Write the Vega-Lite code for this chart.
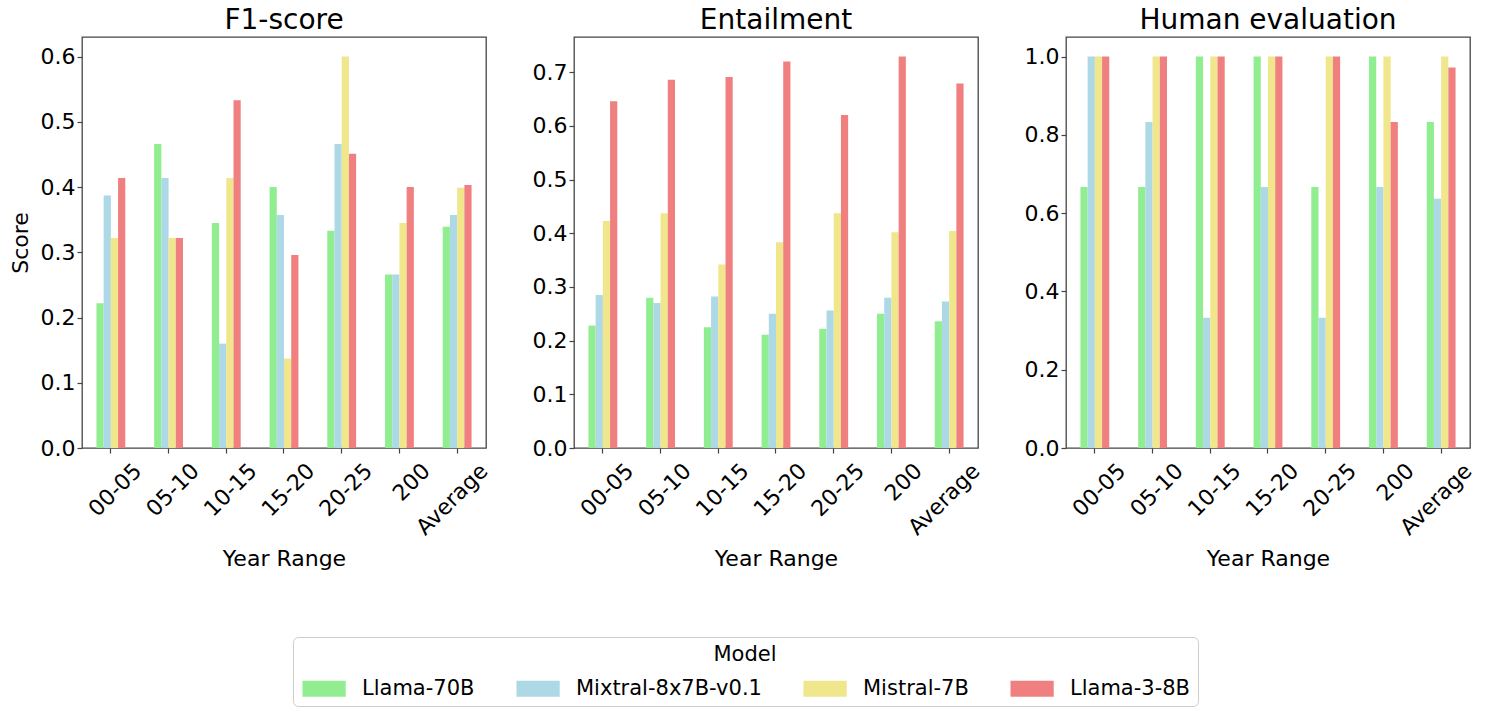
{
  "$schema": "https://vega.github.io/schema/vega-lite/v6.json",
  "padding": {"left": 8, "top": 6, "right": 5, "bottom": 5},
  "background": "white",
  "config": {
    "font": "DejaVu Sans",
    "view": {"stroke": "#444444", "strokeWidth": 1.3},
    "axis": {"grid": false, "domain": false, "tickColor": "#444444", "tickSize": 5, "tickWidth": 1.2, "labelFontSize": 22, "titleFontSize": 22, "labelColor": "black", "titleColor": "black", "titleFontWeight": "normal", "labelFont": "DejaVu Sans", "titleFont": "DejaVu Sans"},
    "title": {"fontSize": 28, "fontWeight": "normal", "font": "DejaVu Sans", "offset": 2, "color": "black"},
    "concat": {"spacing": 38}
  },
  "data": {"values": [
    {"metric": "F1-score", "year": "00-05", "model": "Llama-70B", "score": 0.222},
    {"metric": "F1-score", "year": "00-05", "model": "Mixtral-8x7B-v0.1", "score": 0.387},
    {"metric": "F1-score", "year": "00-05", "model": "Mistral-7B", "score": 0.322},
    {"metric": "F1-score", "year": "00-05", "model": "Llama-3-8B", "score": 0.414},
    {"metric": "F1-score", "year": "05-10", "model": "Llama-70B", "score": 0.466},
    {"metric": "F1-score", "year": "05-10", "model": "Mixtral-8x7B-v0.1", "score": 0.414},
    {"metric": "F1-score", "year": "05-10", "model": "Mistral-7B", "score": 0.322},
    {"metric": "F1-score", "year": "05-10", "model": "Llama-3-8B", "score": 0.322},
    {"metric": "F1-score", "year": "10-15", "model": "Llama-70B", "score": 0.345},
    {"metric": "F1-score", "year": "10-15", "model": "Mixtral-8x7B-v0.1", "score": 0.160},
    {"metric": "F1-score", "year": "10-15", "model": "Mistral-7B", "score": 0.414},
    {"metric": "F1-score", "year": "10-15", "model": "Llama-3-8B", "score": 0.533},
    {"metric": "F1-score", "year": "15-20", "model": "Llama-70B", "score": 0.400},
    {"metric": "F1-score", "year": "15-20", "model": "Mixtral-8x7B-v0.1", "score": 0.357},
    {"metric": "F1-score", "year": "15-20", "model": "Mistral-7B", "score": 0.137},
    {"metric": "F1-score", "year": "15-20", "model": "Llama-3-8B", "score": 0.296},
    {"metric": "F1-score", "year": "20-25", "model": "Llama-70B", "score": 0.333},
    {"metric": "F1-score", "year": "20-25", "model": "Mixtral-8x7B-v0.1", "score": 0.466},
    {"metric": "F1-score", "year": "20-25", "model": "Mistral-7B", "score": 0.600},
    {"metric": "F1-score", "year": "20-25", "model": "Llama-3-8B", "score": 0.451},
    {"metric": "F1-score", "year": "200", "model": "Llama-70B", "score": 0.266},
    {"metric": "F1-score", "year": "200", "model": "Mixtral-8x7B-v0.1", "score": 0.266},
    {"metric": "F1-score", "year": "200", "model": "Mistral-7B", "score": 0.345},
    {"metric": "F1-score", "year": "200", "model": "Llama-3-8B", "score": 0.400},
    {"metric": "F1-score", "year": "Average", "model": "Llama-70B", "score": 0.339},
    {"metric": "F1-score", "year": "Average", "model": "Mixtral-8x7B-v0.1", "score": 0.357},
    {"metric": "F1-score", "year": "Average", "model": "Mistral-7B", "score": 0.399},
    {"metric": "F1-score", "year": "Average", "model": "Llama-3-8B", "score": 0.403},
    {"metric": "Entailment", "year": "00-05", "model": "Llama-70B", "score": 0.228},
    {"metric": "Entailment", "year": "00-05", "model": "Mixtral-8x7B-v0.1", "score": 0.285},
    {"metric": "Entailment", "year": "00-05", "model": "Mistral-7B", "score": 0.423},
    {"metric": "Entailment", "year": "00-05", "model": "Llama-3-8B", "score": 0.646},
    {"metric": "Entailment", "year": "05-10", "model": "Llama-70B", "score": 0.280},
    {"metric": "Entailment", "year": "05-10", "model": "Mixtral-8x7B-v0.1", "score": 0.270},
    {"metric": "Entailment", "year": "05-10", "model": "Mistral-7B", "score": 0.437},
    {"metric": "Entailment", "year": "05-10", "model": "Llama-3-8B", "score": 0.686},
    {"metric": "Entailment", "year": "10-15", "model": "Llama-70B", "score": 0.225},
    {"metric": "Entailment", "year": "10-15", "model": "Mixtral-8x7B-v0.1", "score": 0.282},
    {"metric": "Entailment", "year": "10-15", "model": "Mistral-7B", "score": 0.342},
    {"metric": "Entailment", "year": "10-15", "model": "Llama-3-8B", "score": 0.691},
    {"metric": "Entailment", "year": "15-20", "model": "Llama-70B", "score": 0.211},
    {"metric": "Entailment", "year": "15-20", "model": "Mixtral-8x7B-v0.1", "score": 0.250},
    {"metric": "Entailment", "year": "15-20", "model": "Mistral-7B", "score": 0.383},
    {"metric": "Entailment", "year": "15-20", "model": "Llama-3-8B", "score": 0.720},
    {"metric": "Entailment", "year": "20-25", "model": "Llama-70B", "score": 0.222},
    {"metric": "Entailment", "year": "20-25", "model": "Mixtral-8x7B-v0.1", "score": 0.256},
    {"metric": "Entailment", "year": "20-25", "model": "Mistral-7B", "score": 0.437},
    {"metric": "Entailment", "year": "20-25", "model": "Llama-3-8B", "score": 0.620},
    {"metric": "Entailment", "year": "200", "model": "Llama-70B", "score": 0.250},
    {"metric": "Entailment", "year": "200", "model": "Mixtral-8x7B-v0.1", "score": 0.280},
    {"metric": "Entailment", "year": "200", "model": "Mistral-7B", "score": 0.402},
    {"metric": "Entailment", "year": "200", "model": "Llama-3-8B", "score": 0.729},
    {"metric": "Entailment", "year": "Average", "model": "Llama-70B", "score": 0.236},
    {"metric": "Entailment", "year": "Average", "model": "Mixtral-8x7B-v0.1", "score": 0.273},
    {"metric": "Entailment", "year": "Average", "model": "Mistral-7B", "score": 0.404},
    {"metric": "Entailment", "year": "Average", "model": "Llama-3-8B", "score": 0.679},
    {"metric": "Human evaluation", "year": "00-05", "model": "Llama-70B", "score": 0.667},
    {"metric": "Human evaluation", "year": "00-05", "model": "Mixtral-8x7B-v0.1", "score": 1.0},
    {"metric": "Human evaluation", "year": "00-05", "model": "Mistral-7B", "score": 1.0},
    {"metric": "Human evaluation", "year": "00-05", "model": "Llama-3-8B", "score": 1.0},
    {"metric": "Human evaluation", "year": "05-10", "model": "Llama-70B", "score": 0.667},
    {"metric": "Human evaluation", "year": "05-10", "model": "Mixtral-8x7B-v0.1", "score": 0.833},
    {"metric": "Human evaluation", "year": "05-10", "model": "Mistral-7B", "score": 1.0},
    {"metric": "Human evaluation", "year": "05-10", "model": "Llama-3-8B", "score": 1.0},
    {"metric": "Human evaluation", "year": "10-15", "model": "Llama-70B", "score": 1.0},
    {"metric": "Human evaluation", "year": "10-15", "model": "Mixtral-8x7B-v0.1", "score": 0.333},
    {"metric": "Human evaluation", "year": "10-15", "model": "Mistral-7B", "score": 1.0},
    {"metric": "Human evaluation", "year": "10-15", "model": "Llama-3-8B", "score": 1.0},
    {"metric": "Human evaluation", "year": "15-20", "model": "Llama-70B", "score": 1.0},
    {"metric": "Human evaluation", "year": "15-20", "model": "Mixtral-8x7B-v0.1", "score": 0.667},
    {"metric": "Human evaluation", "year": "15-20", "model": "Mistral-7B", "score": 1.0},
    {"metric": "Human evaluation", "year": "15-20", "model": "Llama-3-8B", "score": 1.0},
    {"metric": "Human evaluation", "year": "20-25", "model": "Llama-70B", "score": 0.667},
    {"metric": "Human evaluation", "year": "20-25", "model": "Mixtral-8x7B-v0.1", "score": 0.333},
    {"metric": "Human evaluation", "year": "20-25", "model": "Mistral-7B", "score": 1.0},
    {"metric": "Human evaluation", "year": "20-25", "model": "Llama-3-8B", "score": 1.0},
    {"metric": "Human evaluation", "year": "200", "model": "Llama-70B", "score": 1.0},
    {"metric": "Human evaluation", "year": "200", "model": "Mixtral-8x7B-v0.1", "score": 0.667},
    {"metric": "Human evaluation", "year": "200", "model": "Mistral-7B", "score": 1.0},
    {"metric": "Human evaluation", "year": "200", "model": "Llama-3-8B", "score": 0.833},
    {"metric": "Human evaluation", "year": "Average", "model": "Llama-70B", "score": 0.833},
    {"metric": "Human evaluation", "year": "Average", "model": "Mixtral-8x7B-v0.1", "score": 0.637},
    {"metric": "Human evaluation", "year": "Average", "model": "Mistral-7B", "score": 1.0},
    {"metric": "Human evaluation", "year": "Average", "model": "Llama-3-8B", "score": 0.972}
  ]},
  "resolve": {"scale": {"y": "independent"}},
  "hconcat": [
    {
      "title": "F1-score",
      "width": 404, "height": 411,
      "transform": [{"filter": "datum.metric === 'F1-score'"}],
      "mark": {"type": "bar"},
      "encoding": {
        "x": {"field": "year", "type": "nominal", "sort": ["00-05", "05-10", "10-15", "15-20", "20-25", "200", "Average"], "scale": {"paddingInner": 0.5, "paddingOuter": 0.25}, "axis": {"title": "Year Range", "labelAngle": -45, "labelAlign": "right", "labelBaseline": "middle", "labelOffset": 27, "labelPadding": 14, "titlePadding": 10}},
        "xOffset": {"field": "model", "type": "nominal", "sort": ["Llama-70B", "Mixtral-8x7B-v0.1", "Mistral-7B", "Llama-3-8B"], "scale": {"paddingInner": 0, "paddingOuter": 0}},
        "y": {"field": "score", "type": "quantitative", "scale": {"domain": [0, 0.63], "nice": false}, "axis": {"title": "Score", "values": [0, 0.1, 0.2, 0.3, 0.4, 0.5, 0.6], "format": ".1f", "titlePadding": 8}},
        "color": {"field": "model", "type": "nominal", "scale": {"domain": ["Llama-70B", "Mixtral-8x7B-v0.1", "Mistral-7B", "Llama-3-8B"], "range": ["#90EE90", "#ADD8E6", "#F0E68C", "#F08080"]},
          "legend": {"orient": "none", "legendX": 211, "legendY": 600, "direction": "horizontal", "title": "Model", "titleFontSize": 21, "titleFontWeight": "normal", "titleColor": "black", "titleAnchor": "middle", "titleAlign": "center", "titlePadding": 13, "labelFontSize": 21, "labelColor": "black", "labelLimit": 400, "symbolType": "M-1,-1H4.4V1H-1Z", "symbolSize": 256, "symbolStrokeWidth": 0, "symbolOpacity": 1, "labelOffset": 41, "columnPadding": 39, "padding": 7, "strokeColor": "#cccccc", "cornerRadius": 5, "fillColor": "white"}}
      }
    },
    {
      "title": "Entailment",
      "width": 404, "height": 411,
      "transform": [{"filter": "datum.metric === 'Entailment'"}],
      "mark": {"type": "bar"},
      "encoding": {
        "x": {"field": "year", "type": "nominal", "sort": ["00-05", "05-10", "10-15", "15-20", "20-25", "200", "Average"], "scale": {"paddingInner": 0.5, "paddingOuter": 0.25}, "axis": {"title": "Year Range", "labelAngle": -45, "labelAlign": "right", "labelBaseline": "middle", "labelOffset": 27, "labelPadding": 14, "titlePadding": 10}},
        "xOffset": {"field": "model", "type": "nominal", "sort": ["Llama-70B", "Mixtral-8x7B-v0.1", "Mistral-7B", "Llama-3-8B"], "scale": {"paddingInner": 0, "paddingOuter": 0}},
        "y": {"field": "score", "type": "quantitative", "scale": {"domain": [0, 0.7655], "nice": false}, "axis": {"title": null, "values": [0, 0.1, 0.2, 0.3, 0.4, 0.5, 0.6, 0.7], "format": ".1f"}},
        "color": {"field": "model", "type": "nominal", "scale": {"domain": ["Llama-70B", "Mixtral-8x7B-v0.1", "Mistral-7B", "Llama-3-8B"], "range": ["#90EE90", "#ADD8E6", "#F0E68C", "#F08080"]}}
      }
    },
    {
      "title": "Human evaluation",
      "width": 404, "height": 411,
      "transform": [{"filter": "datum.metric === 'Human evaluation'"}],
      "mark": {"type": "bar"},
      "encoding": {
        "x": {"field": "year", "type": "nominal", "sort": ["00-05", "05-10", "10-15", "15-20", "20-25", "200", "Average"], "scale": {"paddingInner": 0.5, "paddingOuter": 0.25}, "axis": {"title": "Year Range", "labelAngle": -45, "labelAlign": "right", "labelBaseline": "middle", "labelOffset": 27, "labelPadding": 14, "titlePadding": 10}},
        "xOffset": {"field": "model", "type": "nominal", "sort": ["Llama-70B", "Mixtral-8x7B-v0.1", "Mistral-7B", "Llama-3-8B"], "scale": {"paddingInner": 0, "paddingOuter": 0}},
        "y": {"field": "score", "type": "quantitative", "scale": {"domain": [0, 1.05], "nice": false}, "axis": {"title": null, "values": [0, 0.2, 0.4, 0.6, 0.8, 1.0], "format": ".1f"}},
        "color": {"field": "model", "type": "nominal", "scale": {"domain": ["Llama-70B", "Mixtral-8x7B-v0.1", "Mistral-7B", "Llama-3-8B"], "range": ["#90EE90", "#ADD8E6", "#F0E68C", "#F08080"]}}
      }
    }
  ]
}
